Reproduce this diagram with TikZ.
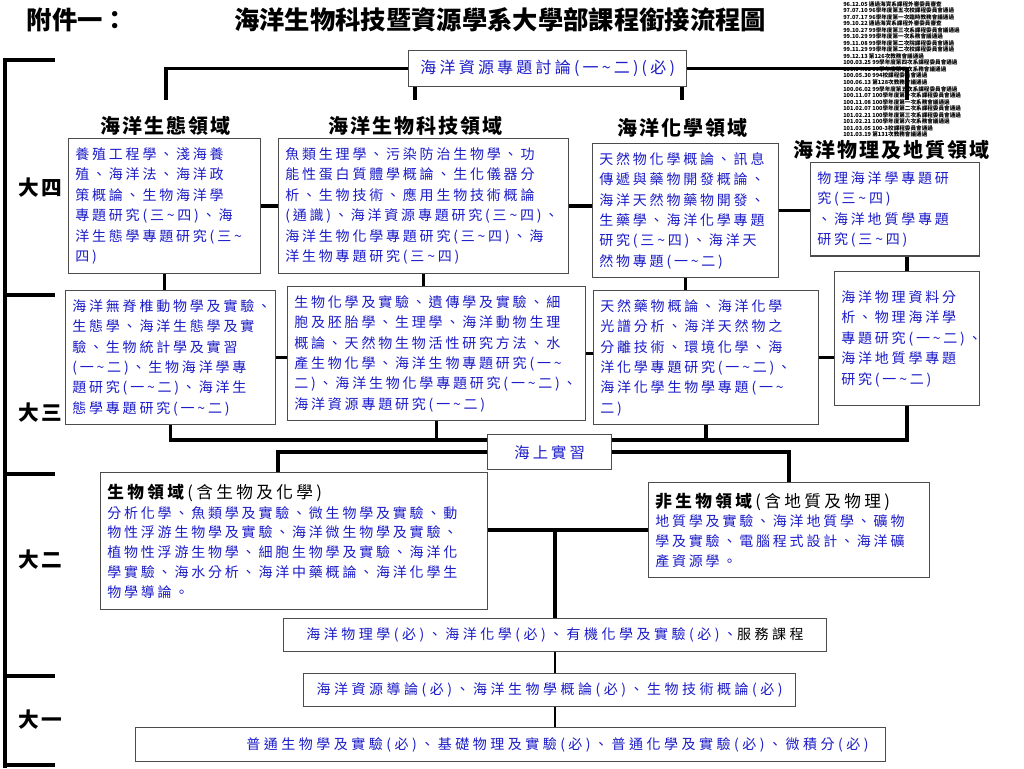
\documentclass[tikz,border=0pt]{standalone}
\usepackage{fontspec}
\setmainfont{Noto Sans CJK TC}
\newfontfamily\bx[LetterSpace=20]{Noto Sans CJK TC}
\newfontfamily\wx[LetterSpace=25]{Noto Sans CJK TC}
\newfontfamily\hx[LetterSpace=10]{Noto Sans CJK TC}
\usetikzlibrary{positioning, calc}
\definecolor{cTxt}{RGB}{28,28,200}
\newcommand{\tild}{\textasciitilde}

\begin{document}
\begin{tikzpicture}[x=0.75pt, y=-0.75pt,
    cbox/.style={draw=black!70, line width=1pt, fill=white, anchor=north west, align=left,
                 inner xsep=5pt, inner ysep=3pt, text=cTxt, font=\bx\fontsize{10.5}{15.3}\selectfont},
    sbox/.style={draw=black!70, line width=1pt, fill=white, anchor=north west, inner sep=0pt,
                 text=cTxt, font=\wx\fontsize{10.5}{12}\selectfont},
    hd/.style={font=\hx\bfseries\fontsize{15}{18}\selectfont},
    yr/.style={font=\hx\bfseries\fontsize{15.5}{18}\selectfont},
    ttl/.style={font=\bfseries\fontsize{19}{22}\selectfont},
    ln/.style={line width=2.6pt},
    lnb/.style={line width=1.4pt}]
\useasboundingbox (0,0) rectangle (1024,768);

% meeting log, top right
\node[anchor=north west, inner sep=0pt, align=left, font=\bfseries\fontsize{4.2}{4.9}\selectfont] (log) at (843,1)
  {96.12.05 通過海資系課程外審委員審查\\
   97.07.10 96學年度第五次校課程委員會通過\\
   97.07.17 96學年度第一次臨時教務會議通過\\
   99.10.22 通過海資系課程外審委員審查\\
   99.10.27 99學年度第三次系課程委員會議通過\\
   99.10.29 99學年度第一次系務會議通過\\
   99.11.08 99學年度第二次院課程委員會通過\\
   99.11.29 99學年度第二次校課程委員會通過\\
   99.12.13 第126次教務會議通過\\
   100.03.25 99學年度第四次系課程委員會通過\\
   100.04.01 99學年度第五次系務會議通過\\
   100.05.30 994校課程委員會通過\\
   100.06.13 第128次教務會議通過\\
   100.06.02 99學年度第五次系課程委員會通過\\
   100.11.07 100學年度第一次系課程委員會通過\\
   100.11.08 100學年度第一次系務會議通過\\
   101.02.07 100學年度第二次系課程委員會通過\\
   101.02.21 100學年度第三次系課程委員會通過\\
   101.02.21 100學年度第六次系務會議通過\\
   101.03.05 100-3校課程委員會通過\\
   101.03.19 第131次教務會議通過};

% title
\node[ttl, anchor=west] (annex) at (22,20) {附件一：};
\node[ttl] (title) at (500,20) {海洋生物科技暨資源學系大學部課程銜接流程圖};

% year bracket
\draw[ln] (55,60) -- (5,60) -- (5,768);
\foreach \yy in {295,474,676,765} \draw[ln] (5,\yy) -- (55,\yy);
\node[yr] (y4) at (40,188) {大四};
\node[yr] (y3) at (40,413) {大三};
\node[yr] (y2) at (40,560) {大二};
\node[yr] (y1) at (40,720) {大一};

% top seminar box
\node[sbox, minimum width=208.5pt, minimum height=27pt, font=\bx\fontsize{12}{14}\selectfont] (topbox) at (408,50)
  {海洋資源專題討論(一\tild{}二)(必)};
\coordinate (tA) at (166,100);
\coordinate (tB) at (415,100);
\coordinate (tC) at (682,100);
\coordinate (tD) at (907,100);
\draw[ln] (topbox.west) -| (tA);
\draw[ln] (topbox.east) -| (tD);
\draw[ln] (topbox.south -| tB) -- (tB);
\draw[ln] (topbox.south -| tC) -- (tC);

% field headings
\node[hd] (hEco)  at (165,126) {海洋生態領域};
\node[hd] (hBio)  at (415,126) {海洋生物科技領域};
\node[hd] (hChem) at (682,128) {海洋化學領域};
\node[hd] (hPhys) at (891,150) {海洋物理及地質領域};

% fourth year
\node[cbox, text width=134pt, minimum height=101pt] (eco4) at (68,138)
  {養殖工程學、淺海養\\殖、海洋法、海洋政\\策概論、生物海洋學\\專題研究(三\tild{}四)、海\\洋生態學專題研究(三\tild\\四)};
\node[cbox, text width=207.5pt, minimum height=101pt] (bio4) at (278,138)
  {魚類生理學、污染防治生物學、功\\能性蛋白質體學概論、生化儀器分\\析、生物技術、應用生物技術概論\\(通識)、海洋資源專題研究(三\tild{}四)、\\海洋生物化學專題研究(三\tild{}四)、海\\洋生物專題研究(三\tild{}四)};
\node[cbox, text width=129.5pt, minimum height=100.5pt] (chem4) at (592,143)
  {天然物化學概論、訊息\\傳遞與藥物開發概論、\\海洋天然物藥物開發、\\生藥學、海洋化學專題\\研究(三\tild{}四)、海洋天\\然物專題(一\tild{}二)};
\node[cbox, text width=116.75pt, minimum height=70pt] (phys4) at (810,162)
  {物理海洋學專題研\\究(三\tild{}四)\\、海洋地質學專題\\研究(三\tild{}四)};

% third year
\node[cbox, text width=147.5pt, minimum height=100.5pt] (eco3) at (65,290)
  {海洋無脊椎動物學及實驗、\\生態學、海洋生態學及實\\驗、生物統計學及實習\\(一\tild{}二)、生物海洋學專\\題研究(一\tild{}二)、海洋生\\態學專題研究(一\tild{}二)};
\node[cbox, text width=213.5pt, minimum height=100.5pt] (bio3) at (287,286)
  {生物化學及實驗、遺傳學及實驗、細\\胞及胚胎學、生理學、海洋動物生理\\概論、天然物生物活性研究方法、水\\產生物化學、海洋生物專題研究(一\tild\\二)、海洋生物化學專題研究(一\tild{}二)、\\海洋資源專題研究(一\tild{}二)};
\node[cbox, text width=158.75pt, minimum height=100.5pt] (chem3) at (593,290)
  {天然藥物概論、海洋化學\\光譜分析、海洋天然物之\\分離技術、環境化學、海\\洋化學專題研究(一\tild{}二)、\\海洋化學生物學專題(一\tild\\二)};
\node[cbox, text width=98.75pt, minimum height=100.5pt] (phys3) at (834,271)
  {海洋物理資料分\\析、物理海洋學\\專題研究(一\tild{}二)、\\海洋地質學專題\\研究(一\tild{}二)};

% links fourth year
\draw[ln] (eco4.east) -- (eco4.east -| bio4.west);
\draw[ln] (bio4.east) -- (bio4.east -| chem4.west);
\draw[ln] (chem4.east) -- (chem4.east -| phys4.west);
\draw[ln] (eco4.south) -- (eco4.south |- eco3.north);
\draw[ln] (bio4.south) -- (bio4.south |- bio3.north);
\draw[ln] (chem4.south) -- (chem4.south |- chem3.north);
\draw[ln] (phys3.north) -- (phys3.north |- phys4.south);

% links third year
\draw[ln] (eco3.east) -- (eco3.east -| bio3.west);
\draw[ln] (bio3.east) -- (bio3.east -| chem3.west);
\draw[ln] (chem3.east) -- (chem3.east -| phys3.west);
\coordinate (bus) at (500,440);
\draw[ln] (eco3.south) |- (bus -| phys3.south) -- (phys3.south);
\draw[ln] (bio3.south) -- (bio3.south |- bus);
\draw[ln] (chem3.south) -- (chem3.south |- bus);

% sea practice
\node[sbox, minimum width=93pt, minimum height=26.25pt, font=\bx\fontsize{11.5}{13}\selectfont] (sea) at (487,434) {海上實習};

% second year
\node[cbox, text width=280pt, minimum height=102.75pt, font=\bx\fontsize{10.5}{14.8}\selectfont] (bioArea) at (100,472)
  {{\color{black}\fontsize{12.5}{15}\selectfont\textbf{生物領域}(含生物及化學)}\\
   分析化學、魚類學及實驗、微生物學及實驗、動\\物性浮游生物學及實驗、海洋微生物學及實驗、\\植物性浮游生物學、細胞生物學及實驗、海洋化\\學實驗、海水分析、海洋中藥概論、海洋化學生\\物學導論。};
\node[cbox, text width=200.75pt, minimum height=71.25pt, font=\bx\fontsize{10.5}{14.8}\selectfont] (nonBio) at (648,482)
  {{\color{black}\fontsize{12.5}{15}\selectfont\textbf{非生物領域}(含地質及物理)}\\
   地質學及實驗、海洋地質學、礦物\\學及實驗、電腦程式設計、海洋礦\\產資源學。};
\draw[ln] (sea.east) -| (nonBio.north);
\draw[ln] (sea.west) -| ([xshift=-12pt]bioArea.north);
\draw[ln] (nonBio.west) -- (nonBio.west -| bioArea.east);

% first and second year required
\node[sbox, minimum width=407pt, minimum height=24.75pt] (srv) at (283,618)
  {海洋物理學(必)、海洋化學(必)、有機化學及實驗(必)、{\color{black}服務課程}};
\node[sbox, minimum width=369pt, minimum height=24.75pt] (intro) at (303,673)
  {海洋資源導論(必)、海洋生物學概論(必)、生物技術概論(必)};
\node[sbox, minimum height=25.5pt, text width=537pt, align=right, inner xsep=12.75pt] (basic) at (135,727)
  {普通生物學及實驗(必)、基礎物理及實驗(必)、普通化學及實驗(必)、微積分(必)};
\draw[ln] (srv.north |- nonBio.west) -- (srv.north);
\draw[lnb] (srv.south) -- (srv.south |- intro.north);
\draw[lnb] (srv.south |- intro.south) -- (srv.south |- basic.north);
\end{tikzpicture}
\end{document}
